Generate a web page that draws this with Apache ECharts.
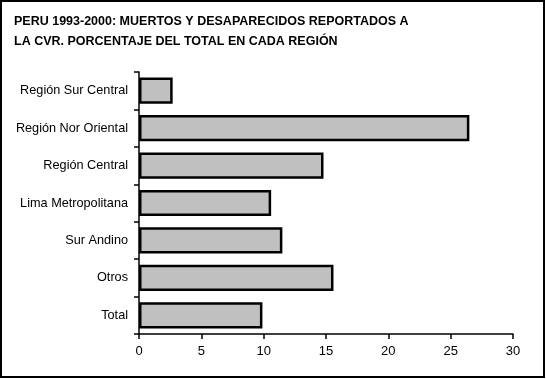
<!DOCTYPE html>
<html><head><meta charset="utf-8">
<script src="https://cdn.jsdelivr.net/npm/echarts@6/dist/echarts.min.js"></script>
<style>html,body{margin:0;padding:0;background:#fff}#c{width:546px;height:379px}</style>
</head><body><div id="c"></div>
<script>
const categories = ["Región Sur Central","Región Nor Oriental","Región Central","Lima Metropolitana","Sur Andino","Otros","Total"];
const values = [2.7, 26.5, 14.8, 10.6, 11.5, 15.6, 9.9];
const xTicks = [0, 5, 10, 15, 20, 25, 30];
const titleText = "PERU 1993-2000: MUERTOS Y DESAPARECIDOS REPORTADOS A\nLA CVR. PORCENTAJE DEL TOTAL EN CADA REGIÓN";

const chart = echarts.init(document.getElementById('c'), null, {renderer:'canvas'});
chart.setOption({
  animation:false,
  backgroundColor:'#fff',
  graphic:[{type:'rect',shape:{x:1,y:1,width:543,height:376},style:{fill:'none',stroke:'#000',lineWidth:2},z:100}],
  title:{text:titleText,left:14,top:12,padding:0,textStyle:{fontFamily:'Liberation Sans',fontSize:12.5,fontWeight:'bold',color:'#000',lineHeight:20}},
  grid:{left:139,right:33,top:72,bottom:45,containLabel:false},
  xAxis:{type:'value',min:xTicks[0],max:xTicks[xTicks.length-1],interval:5,
    axisLine:{show:true,lineStyle:{color:'#000',width:1.5}},
    axisTick:{show:true,length:5,lineStyle:{color:'#000',width:1.5}},
    axisLabel:{fontFamily:'Liberation Sans',fontSize:13,color:'#000',margin:11},
    splitLine:{show:false}},
  yAxis:{type:'category',data:categories,inverse:true,
    axisLine:{show:true,lineStyle:{color:'#000',width:1.5}},
    axisTick:{show:true,length:5,lineStyle:{color:'#000',width:1.5}},
    axisLabel:{fontFamily:'Liberation Sans',fontSize:12.7,color:'#000',margin:11}},
  series:[{type:'bar',data:values,barCategoryGap:'30%',
    itemStyle:{color:'#c0c0c0',borderColor:'#000',borderWidth:2.5}}]
});
</script></body></html>
